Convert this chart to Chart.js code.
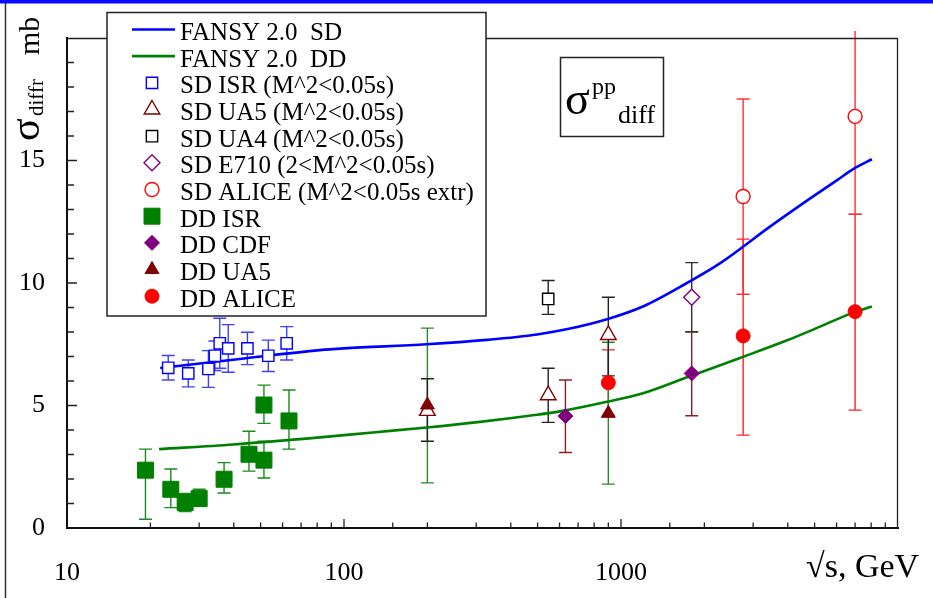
<!DOCTYPE html>
<html>
<head>
<meta charset="utf-8">
<script src="https://cdn.jsdelivr.net/npm/chart.js@4.4.0/dist/chart.umd.min.js"></script>
<style>
  html, body { margin: 0; padding: 0; background: #fff; }
  #wrap { width: 933px; height: 598px; }
</style>
</head>
<body>
<div id="wrap"><canvas id="chart" width="933" height="598"></canvas></div>
<script>
const SERIF = "'Liberation Serif', 'Times New Roman', serif";

// FANSY 2.0 model curves (sqrt(s) in GeV, sigma in mb)
const sdCurveX = [21.7, 42, 81.8, 100, 199, 328, 498, 655, 890, 1200, 1730, 2275, 3450, 4540, 6030, 6890, 8050];
const sdCurveY = [6.53, 6.9, 7.26, 7.33, 7.5, 7.68, 7.9, 8.14, 8.52, 9.04, 10.0, 10.8, 12.3, 13.25, 14.2, 14.65, 15.05];
const ddCurveX = [21.5, 39.8, 81.8, 127, 199, 310, 481, 602, 890, 1200, 1730, 2690, 3980, 5230, 6890, 8050];
const ddCurveY = [3.22, 3.41, 3.70, 3.9, 4.1, 4.33, 4.6, 4.76, 5.15, 5.5, 6.15, 6.94, 7.66, 8.22, 8.79, 9.04];

// single diffraction data
const sdIsrX = [23.2, 27.4, 32.4, 34.2, 35.6, 38.2, 44.8, 53.3, 62.1];
const sdIsrY = [6.54, 6.31, 6.49, 7.03, 7.54, 7.33, 7.33, 7.03, 7.54];
const sdIsrErrUp = [0.5, 0.55, 0.75, 0.6, 1.02, 0.97, 0.66, 0.64, 0.68];
const sdIsrErrDown = [0.5, 0.55, 0.75, 0.6, 1.02, 0.97, 0.66, 0.64, 0.68];

const sdUa5X = [200, 546, 900];
const sdUa5Y = [4.78, 5.42, 7.88];
const sdUa5ErrUp = [1.31, 1.1, 1.54];
const sdUa5ErrDown = [1.24, 1.11, 1.67];

const sdUa4X = [546];
const sdUa4Y = [9.35];
const sdUa4ErrUp = [0.75];
const sdUa4ErrDown = [0.63];

const sdE710X = [1800];
const sdE710Y = [9.42];
const sdE710ErrUp = [1.41];
const sdE710ErrDown = [1.41];

const sdAliceX = [2760, 7000];
const sdAliceY = [13.53, 16.8];
const sdAliceErrUp = [3.98, 4.0];
const sdAliceErrDown = [3.99, 4.0];

// double diffraction data
const ddIsrX = [19.2, 23.7, 26.7, 30.0, 36.9, 45.4, 51.4, 51.4, 63.3];
const ddIsrY = [2.36, 1.58, 1.04, 1.2, 1.99, 3.01, 5.02, 2.77, 4.37];
const ddIsrErrUp = [0.86, 0.83, 0.37, 0.38, 0.68, 0.94, 0.81, 0.77, 1.26];
const ddIsrErrDown = [2.0, 0.75, 0.37, 0.3, 0.56, 0.69, 0.75, 0.73, 1.15];

const ddCdfX = [630, 1800];
const ddCdfY = [4.57, 6.31];
const ddCdfErrUp = [1.47, 1.7];
const ddCdfErrDown = [1.49, 1.73];

const ddUa5X = [200, 900];
const ddUa5Y = [5.02, 4.68];
const ddUa5ErrUp = [3.14, 2.9];
const ddUa5ErrDown = [3.18, 2.89];

const ddAliceX = [900, 2760, 7000];
const ddAliceY = [5.93, 7.84, 8.83];
const ddAliceErrUp = [1.34, 3.95, 3.98];
const ddAliceErrDown = [1.34, 4.05, 4.02];

const xTickLabels = [10, 100, 1000];
const yTickLabels = [0, 5, 10, 15];

const curves = {
  sd: { label: 'FANSY 2.0  SD', color: '#0000ff' },
  dd: { label: 'FANSY 2.0  DD', color: '#008000' }
};

const markers = {
  sdIsr:   { label: 'SD ISR (M^2<0.05s)', style: 'rect', radius: 8, color: '#0000ff', fill: '#ffffff', err: '#4040ff' },
  sdUa5:   { label: 'SD UA5 (M^2<0.05s)', style: 'triangle', radius: 9, color: '#800000', fill: '#ffffff', err: '#222222' },
  sdUa4:   { label: 'SD UA4 (M^2<0.05s)', style: 'rect', radius: 8, color: '#000000', fill: '#ffffff', err: '#222222' },
  sdE710:  { label: 'SD E710 (2<M^2<0.05s)', style: 'rectRot', radius: 8, color: '#800080', fill: '#ffffff', err: '#333333' },
  sdAlice: { label: 'SD ALICE (M^2<0.05s extr)', style: 'circle', radius: 7, color: '#ff0000', fill: '#ffffff', err: '#ff3030' },
  ddIsr:   { label: 'DD ISR', style: 'rect', radius: 11.3, color: '#008000', fill: '#008000', err: '#1a8a1a' },
  ddCdf:   { label: 'DD CDF', style: 'rectRot', radius: 7.5, color: '#800080', fill: '#800080', err: '#902020' },
  ddUa5:   { label: 'DD UA5', style: 'triangle', radius: 8, color: '#800000', fill: '#800000', err: '#2a8a2a' },
  ddAlice: { label: 'DD ALICE', style: 'circle', radius: 7, color: '#ff0000', fill: '#ff0000', err: '#ff2020' }
};

const legendOrder = ['sd', 'dd', 'sdIsr', 'sdUa5', 'sdUa4', 'sdE710', 'sdAlice', 'ddIsr', 'ddCdf', 'ddUa5', 'ddAlice'];

function toPoints(xs, ys) {
  return xs.map((x, i) => ({ x: x, y: ys[i] }));
}

function curveSet(key, xs, ys) {
  const c = curves[key];
  return {
    label: c.label,
    data: toPoints(xs, ys),
    showLine: true,
    borderColor: c.color,
    borderWidth: 2.6,
    pointRadius: 0,
    pointHoverRadius: 0,
    cubicInterpolationMode: 'monotone',
    fill: false,
    order: 2
  };
}

function pointSet(key, xs, ys, up, down) {
  const m = markers[key];
  return {
    label: m.label,
    data: toPoints(xs, ys),
    errUp: up,
    errDown: down,
    errColor: m.err,
    showLine: false,
    pointStyle: m.style,
    pointRadius: m.radius,
    pointHoverRadius: m.radius,
    pointBackgroundColor: m.fill,
    pointBorderColor: m.color,
    pointBorderWidth: m.fill === '#ffffff' ? 1.4 : 1,
    order: 1
  };
}

// vertical error bars, drawn under the markers
const errorBars = {
  id: 'errorBars',
  beforeDatasetsDraw(chart) {
    const { ctx, chartArea: a, scales: { x, y } } = chart;
    ctx.save();
    ctx.beginPath();
    ctx.rect(a.left, a.top - 7, a.right - a.left, a.bottom - a.top + 7);
    ctx.clip();
    ctx.lineWidth = 1.4;
    chart.data.datasets.forEach(ds => {
      if (!ds.errUp) return;
      ctx.strokeStyle = ds.errColor;
      ds.data.forEach((p, i) => {
        const px = x.getPixelForValue(p.x);
        const top = y.getPixelForValue(p.y + ds.errUp[i]);
        const bot = y.getPixelForValue(p.y - ds.errDown[i]);
        ctx.beginPath();
        ctx.moveTo(px, top);
        ctx.lineTo(px, bot);
        ctx.moveTo(px - 6.5, top);
        ctx.lineTo(px + 6.5, top);
        ctx.moveTo(px - 6.5, bot);
        ctx.lineTo(px + 6.5, bot);
        ctx.stroke();
      });
    });
    ctx.restore();
  }
};

function drawMarker(ctx, m, x, y) {
  ctx.fillStyle = m.fill;
  ctx.strokeStyle = m.color;
  ctx.lineWidth = m.fill === '#ffffff' ? 1.4 : 1;
  Chart.helpers.drawPoint(ctx, { pointStyle: m.style, radius: m.radius, rotation: 0, borderWidth: ctx.lineWidth }, x, y);
}

// page decoration, frame, inward ticks, legend and titles
const decorations = {
  id: 'decorations',
  beforeDraw(chart) {
    const ctx = chart.ctx;
    ctx.save();
    ctx.fillStyle = '#ffffff';
    ctx.fillRect(0, 0, chart.width, chart.height);
    ctx.fillStyle = '#0a0aff';
    ctx.fillRect(0, 0, chart.width, 3.5);
    ctx.strokeStyle = '#333333';
    ctx.lineWidth = 1.5;
    ctx.beginPath();
    ctx.moveTo(5.5, 3);
    ctx.lineTo(5.5, chart.height);
    ctx.stroke();
    ctx.restore();
  },
  afterDraw(chart) {
    const { ctx, chartArea: a, scales: { x, y } } = chart;
    ctx.save();

    // top and right sides of the frame
    ctx.strokeStyle = '#222222';
    ctx.lineWidth = 1.3;
    ctx.beginPath();
    ctx.moveTo(a.left, a.top + 0.5);
    ctx.lineTo(a.right - 0.5, a.top + 0.5);
    ctx.lineTo(a.right - 0.5, a.bottom);
    ctx.stroke();

    // ticks pointing into the plot
    ctx.beginPath();
    x.ticks.forEach(t => {
      const px = x.getPixelForValue(t.value);
      if (px <= a.left + 1 || px >= a.right - 1) return;
      const major = Math.abs(Math.log10(t.value) - Math.round(Math.log10(t.value))) < 1e-6;
      ctx.moveTo(px, a.bottom);
      ctx.lineTo(px, a.bottom - (major ? 9 : 5.5));
    });
    y.ticks.forEach(t => {
      const py = y.getPixelForValue(t.value);
      if (py >= a.bottom - 1 || py <= a.top + 1) return;
      ctx.moveTo(a.left, py);
      ctx.lineTo(a.left + (t.value % 5 === 0 ? 10 : 7), py);
    });
    ctx.stroke();

    // legend
    ctx.fillStyle = '#ffffff';
    ctx.fillRect(107, 12.5, 379, 303.5);
    ctx.strokeStyle = '#222222';
    ctx.lineWidth = 1.5;
    ctx.strokeRect(107, 12.5, 379, 303.5);
    ctx.font = '25px ' + SERIF;
    ctx.textBaseline = 'alphabetic';
    ctx.textAlign = 'left';
    legendOrder.forEach((key, i) => {
      const base = 40 + 26.67 * i;
      const mid = base - 10.5;
      if (curves[key]) {
        ctx.strokeStyle = curves[key].color;
        ctx.lineWidth = 2.6;
        ctx.beginPath();
        ctx.moveTo(132, mid);
        ctx.lineTo(175, mid);
        ctx.stroke();
        ctx.fillStyle = '#000000';
        ctx.fillText(curves[key].label, 180, base);
      } else {
        drawMarker(ctx, markers[key], 152, mid);
        ctx.fillStyle = '#000000';
        ctx.fillText(markers[key].label, 180, base);
      }
    });

    // reaction label box
    ctx.strokeStyle = '#222222';
    ctx.lineWidth = 1.5;
    ctx.strokeRect(560.5, 57.5, 103, 79);
    ctx.fillStyle = '#000000';
    ctx.font = '46px ' + SERIF;
    ctx.fillText('σ', 565, 114);
    ctx.font = '24px ' + SERIF;
    ctx.fillText('pp', 592, 94);
    ctx.font = '26px ' + SERIF;
    ctx.fillText('diff', 618, 123);

    // axis titles
    ctx.font = '34px ' + SERIF;
    ctx.fillText('√s, GeV', 806, 577);

    ctx.translate(39, 141);
    ctx.rotate(-Math.PI / 2);
    ctx.font = '42px ' + SERIF;
    ctx.fillText('σ', 0, 0);
    ctx.font = '21px ' + SERIF;
    ctx.fillText('diffr', 25, 4);
    ctx.font = '30px ' + SERIF;
    ctx.fillText('mb', 86, 0);

    ctx.restore();
  }
};

const tickFont = { family: SERIF, size: 26 };

new Chart(document.getElementById('chart'), {
  type: 'scatter',
  data: {
    datasets: [
      pointSet('ddAlice', ddAliceX, ddAliceY, ddAliceErrUp, ddAliceErrDown),
      pointSet('ddUa5', ddUa5X, ddUa5Y, ddUa5ErrUp, ddUa5ErrDown),
      pointSet('ddCdf', ddCdfX, ddCdfY, ddCdfErrUp, ddCdfErrDown),
      pointSet('ddIsr', ddIsrX, ddIsrY, ddIsrErrUp, ddIsrErrDown),
      pointSet('sdAlice', sdAliceX, sdAliceY, sdAliceErrUp, sdAliceErrDown),
      pointSet('sdE710', sdE710X, sdE710Y, sdE710ErrUp, sdE710ErrDown),
      pointSet('sdUa4', sdUa4X, sdUa4Y, sdUa4ErrUp, sdUa4ErrDown),
      pointSet('sdUa5', sdUa5X, sdUa5Y, sdUa5ErrUp, sdUa5ErrDown),
      pointSet('sdIsr', sdIsrX, sdIsrY, sdIsrErrUp, sdIsrErrDown),
      curveSet('sd', sdCurveX, sdCurveY),
      curveSet('dd', ddCurveX, ddCurveY)
    ]
  },
  options: {
    responsive: false,
    animation: false,
    devicePixelRatio: 1,
    layout: { padding: { left: 0, top: 38, right: 35, bottom: 0 } },
    plugins: {
      legend: { display: false },
      tooltip: { enabled: false }
    },
    scales: {
      x: {
        type: 'logarithmic',
        min: 10,
        max: 10000,
        grid: { display: false, drawTicks: false },
        border: { display: true, color: '#111111', width: 2 },
        ticks: {
          autoSkip: false,
          maxRotation: 0,
          padding: 30,
          color: '#000000',
          font: tickFont,
          callback: v => xTickLabels.some(l => Math.abs(l - v) < 1e-6) ? String(Math.round(v)) : ''
        },
        afterFit: s => { s.height = 70; }
      },
      y: {
        type: 'linear',
        min: 0,
        max: 20,
        grid: { display: false, drawTicks: false },
        border: { display: true, color: '#111111', width: 2 },
        ticks: {
          stepSize: 1,
          autoSkip: false,
          padding: 22,
          color: '#000000',
          font: tickFont,
          callback: v => yTickLabels.includes(v) ? String(v) : ''
        },
        afterFit: s => { s.width = 67; }
      }
    }
  },
  plugins: [errorBars, decorations]
});
</script>
</body>
</html>
